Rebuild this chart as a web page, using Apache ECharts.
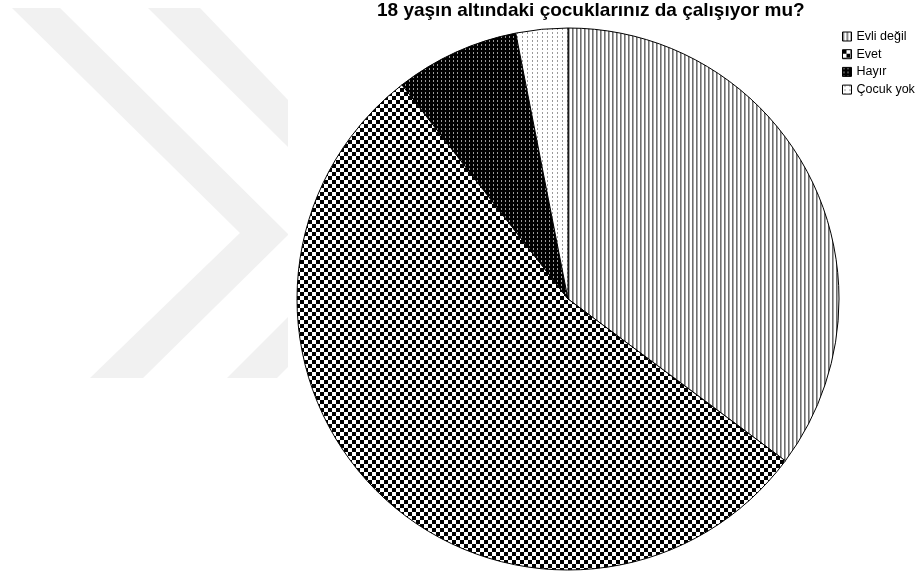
<!DOCTYPE html>
<html>
<head>
<meta charset="utf-8">
<script src="https://cdn.jsdelivr.net/npm/echarts@6/dist/echarts.min.js"></script>
<style>
html,body{margin:0;padding:0;background:#fff;}
#main{width:919px;height:576px;}
</style>
</head>
<body>
<div id="main"></div>
<script>
const titleText = '18 yaşın altındaki çocuklarınız da çalışıyor mu?';
const categories = ['Evli değil', 'Evet', 'Hayır', 'Çocuk yok'];
const values = [57, 88, 12, 5];

function makePattern(w, h, draw) {
  const c = document.createElement('canvas');
  c.width = w; c.height = h;
  const ctx = c.getContext('2d');
  draw(ctx);
  return { image: c, repeat: 'repeat' };
}
const patterns = [
  makePattern(4, 4, ctx => {
    ctx.fillStyle = '#fff'; ctx.fillRect(0, 0, 4, 4);
    ctx.fillStyle = '#6e6e6e'; ctx.fillRect(0, 0, 1, 4);
    ctx.fillStyle = '#a8a8a8'; ctx.fillRect(1, 0, 1, 4);
  }),
  makePattern(8, 8, ctx => {
    ctx.fillStyle = '#fff'; ctx.fillRect(0, 0, 8, 8);
    ctx.fillStyle = '#000'; ctx.fillRect(0, 0, 4, 4); ctx.fillRect(4, 4, 4, 4);
  }),
  makePattern(4, 4, ctx => {
    ctx.fillStyle = '#000'; ctx.fillRect(0, 0, 4, 4);
    ctx.fillStyle = '#9a9a9a'; ctx.fillRect(1, 0, 1, 2);
  }),
  makePattern(5, 4, ctx => {
    ctx.fillStyle = '#fff'; ctx.fillRect(0, 0, 5, 4);
    ctx.fillStyle = '#9a9a9a'; ctx.fillRect(2, 0, 1, 2);
  })
];

const chart = echarts.init(document.getElementById('main'), null, { renderer: 'canvas' });
const wm = '#f1f1f1';
chart.setOption({
  animation: false,
  backgroundColor: '#fff',
  graphic: [
    { type: 'polygon', z: -10, silent: true,
      shape: { points: [[12, 8], [60, 8], [288, 234], [288, 235], [143, 378], [90, 378], [240, 233]] },
      style: { fill: wm } },
    { type: 'polygon', z: -10, silent: true,
      shape: { points: [[148, 8], [200, 8], [288, 100], [288, 147]] },
      style: { fill: wm } },
    { type: 'polygon', z: -10, silent: true,
      shape: { points: [[227, 378], [277, 378], [288, 367], [288, 317]] },
      style: { fill: wm } }
  ],
  title: {
    text: titleText,
    left: 377, top: 1,
    padding: 0,
    textStyle: { fontFamily: 'Liberation Sans, Arial, sans-serif', fontWeight: 'bold', fontSize: 19, color: '#000' }
  },
  legend: {
    orient: 'vertical',
    left: 842, top: 30,
    padding: 0,
    itemWidth: 9, itemHeight: 9, itemGap: 4.7,
    itemTextGap: 6,
    icon: 'rect',
    selectedMode: false,
    itemStyle: { borderColor: '#000', borderWidth: 1 },
    textStyle: { fontFamily: 'Liberation Sans, Arial, sans-serif', fontSize: 12.5, lineHeight: 12, color: '#000' },
    data: categories
  },
  series: [{
    type: 'pie',
    center: [568, 299],
    radius: [0, 271],
    startAngle: 90,
    clockwise: true,
    label: { show: false },
    labelLine: { show: false },
    emphasis: { disabled: true },
    silent: true,
    itemStyle: { borderColor: '#000', borderWidth: 1 },
    data: categories.map((n, i) => ({ name: n, value: values[i], itemStyle: { color: patterns[i] } }))
  }]
});
</script>
</body>
</html>
